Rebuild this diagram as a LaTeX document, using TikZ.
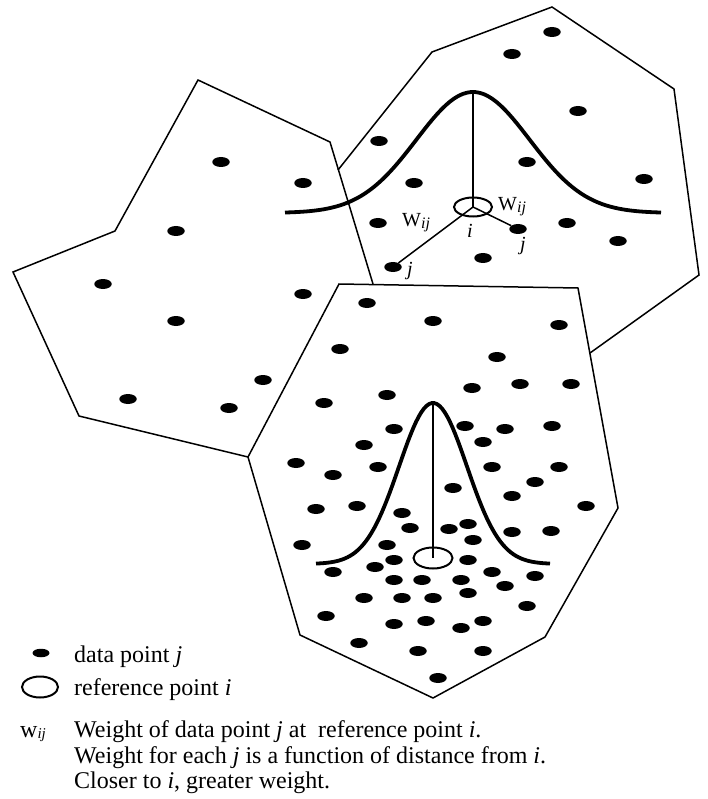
\documentclass[tikz,border=0pt]{standalone}
\usepackage{fontspec}
\setmainfont{Liberation Serif}
\usetikzlibrary{shapes.geometric}

\tikzset{
  cellline/.style={line width=1.5pt},
  bellcurve/.style={line width=3.8pt},
  stemline/.style={line width=2.8pt},
  refpt/.style={ellipse, draw, line width=2pt, inner sep=0pt},
  wline/.style={line width=1.5pt},
  lbl/.style={inner sep=0pt, font=\fontsize{20}{20}\selectfont},
  keytext/.style={inner sep=0pt, anchor=base west, font=\fontsize{24}{25}\selectfont}
}
\newcommand{\wsub}[1]{\raisebox{-1.5pt}{\fontsize{#1}{#1}\selectfont\itshape ij}}

\begin{document}
\begin{tikzpicture}[x=1pt,y=-1pt]
        \useasboundingbox (0,0) rectangle (707,799);

        % the three cells
        \draw[cellline] (339,284) -- (578,288) -- (618,508) -- (545,637) -- (433,698) -- (300,635) -- (248,457) -- cycle;
        \draw[cellline] (373,284) -- (330,142) -- (198,80) -- (115,231) -- (13,272) -- (79,416) -- (248,457);
        \draw[cellline] (338,170) -- (432,52) -- (552,7) -- (674,89) -- (699,275) -- (590,353);

        \begin{scope}[every node/.style={ellipse,fill,inner sep=0pt,minimum width=17.5pt,minimum height=10pt}]
          % left cell
          \node (l1)  at (221,162) {};
          \node (l2)  at (303,183) {};
          \node (l3)  at (176,231) {};
          \node (l4)  at (103,284) {};
          \node (l5)  at (303,294) {};
          \node (l6)  at (176,321) {};
          \node (l7)  at (263,380) {};
          \node (l8)  at (128,399) {};
          \node (l9)  at (229,408) {};
          % upper cell
          \node (u1)  at (552,32)  {};
          \node (u2)  at (512,54)  {};
          \node (u3)  at (578,111) {};
          \node (u4)  at (379,141) {};
          \node (u5)  at (527,162) {};
          \node (u6)  at (644,179) {};
          \node (u7)  at (414,183) {};
          \node (u8)  at (378,223) {};
          \node (u9)  at (567,223) {};
          \node (u10) at (618,241) {};
          \node (u11) at (483,258) {};
          \node (jr)  at (518,229) {};
          \node (jl)  at (393,267) {};
          % lower cell
          \node (b1)  at (367,303) {};
          \node (b2)  at (433,321) {};
          \node (b3)  at (559,325) {};
          \node (b4)  at (340,349) {};
          \node (b5)  at (497,357) {};
          \node (b6)  at (472,388) {};
          \node (b7)  at (520,384) {};
          \node (b8)  at (571,384) {};
          \node (b9)  at (324,403) {};
          \node (b10) at (387,395) {};
          \node (b11) at (394,429) {};
          \node (b12) at (465,426) {};
          \node (b13) at (505,429) {};
          \node (b14) at (552,426) {};
          \node (b15) at (364,445) {};
          \node (b16) at (483,442) {};
          \node (b17) at (296,463) {};
          \node (b18) at (333,475) {};
          \node (b19) at (378,467) {};
          \node (b20) at (492,467) {};
          \node (b21) at (559,467) {};
          \node (b22) at (535,482) {};
          \node (b23) at (453,488) {};
          \node (b24) at (512,496) {};
          \node (b25) at (586,506) {};
          \node (b26) at (316,509) {};
          \node (b27) at (357,506) {};
          \node (b28) at (402,513) {};
          \node (b29) at (410,528) {};
          \node (b30) at (449,529) {};
          \node (b31) at (468,524) {};
          \node (b32) at (473,540) {};
          \node (b33) at (512,532) {};
          \node (b34) at (551,531) {};
          \node (b35) at (302,545) {};
          \node (b36) at (387,545) {};
          \node (b37) at (394,560) {};
          \node (b38) at (468,560) {};
          \node (b39) at (333,572) {};
          \node (b40) at (375,567) {};
          \node (b41) at (492,572) {};
          \node (b42) at (535,576) {};
          \node (b43) at (394,580) {};
          \node (b44) at (422,580) {};
          \node (b45) at (461,580) {};
          \node (b46) at (505,586) {};
          \node (b47) at (364,598) {};
          \node (b48) at (402,598) {};
          \node (b49) at (433,598) {};
          \node (b50) at (468,593) {};
          \node (b51) at (527,606) {};
          \node (b52) at (326,616) {};
          \node (b53) at (394,624) {};
          \node (b54) at (426,621) {};
          \node (b55) at (461,628) {};
          \node (b56) at (483,621) {};
          \node (b57) at (359,643) {};
          \node (b58) at (418,651) {};
          \node (b59) at (483,651) {};
          \node (b60) at (438,678) {};
        \end{scope}

        % reference points with their kernels
        \node[refpt,minimum width=38pt,minimum height=19pt] (iA) at (473,207) {};
        \node[refpt,minimum width=39pt,minimum height=21pt] (iB) at (433,558) {};
        \coordinate (peakA) at (473,92);
        \coordinate (peakB) at (433,403);

        \draw[bellcurve] plot[domain=-188:188,samples=90] ({473+\x},{213-121*exp(-(\x/80)*(\x/80))});
        \draw[bellcurve] plot[domain=-117:117,samples=90] ({433+\x},{564-161*exp(-(\x/48)*(\x/48))});
        \draw[stemline] (peakA) -- (iA.center);
        \draw[stemline] (peakB) -- (iB.center);

        \draw[wline] (iA.center) -- (jl);
        \draw[wline] (iA.center) -- (jr);

        \node[lbl,anchor=base west] (wl) at (402,227) {W\wsub{16}};
        \node[lbl,anchor=base west] (wr) at (498,211) {W\wsub{16}};
        \node[lbl,anchor=base] (il) at (470,238) {\textit{i}};
        \node[lbl,anchor=base] (jrl) at (523,251) {\textit{j}};
        \node[lbl,anchor=base] (jll) at (410,276) {\textit{j}};

        % key
        \node[ellipse,fill,inner sep=0pt,minimum width=17pt,minimum height=8.5pt] (keydot) at (41,653) {};
        \node[refpt,minimum width=36pt,minimum height=21pt] (keyref) at (40,687) {};
        \node[keytext] (keydotlbl) at (74,662) {data point \textit{j}};
        \node[keytext] (keyreflbl) at (74,695) {reference point \textit{i}};
        \node[keytext] (keyw) at (20,737) {w\wsub{15}};
        \node[keytext] (keyline1) at (74,737) {Weight of data point \textit{j} at\ \ reference point \textit{i}.};
        \node[keytext] (keyline2) at (74,763) {Weight for each \textit{j} is a function of distance from \textit{i}.};
        \node[keytext] (keyline3) at (74,788) {Closer to \textit{i}, greater weight.};

      \end{tikzpicture}
\end{document}
